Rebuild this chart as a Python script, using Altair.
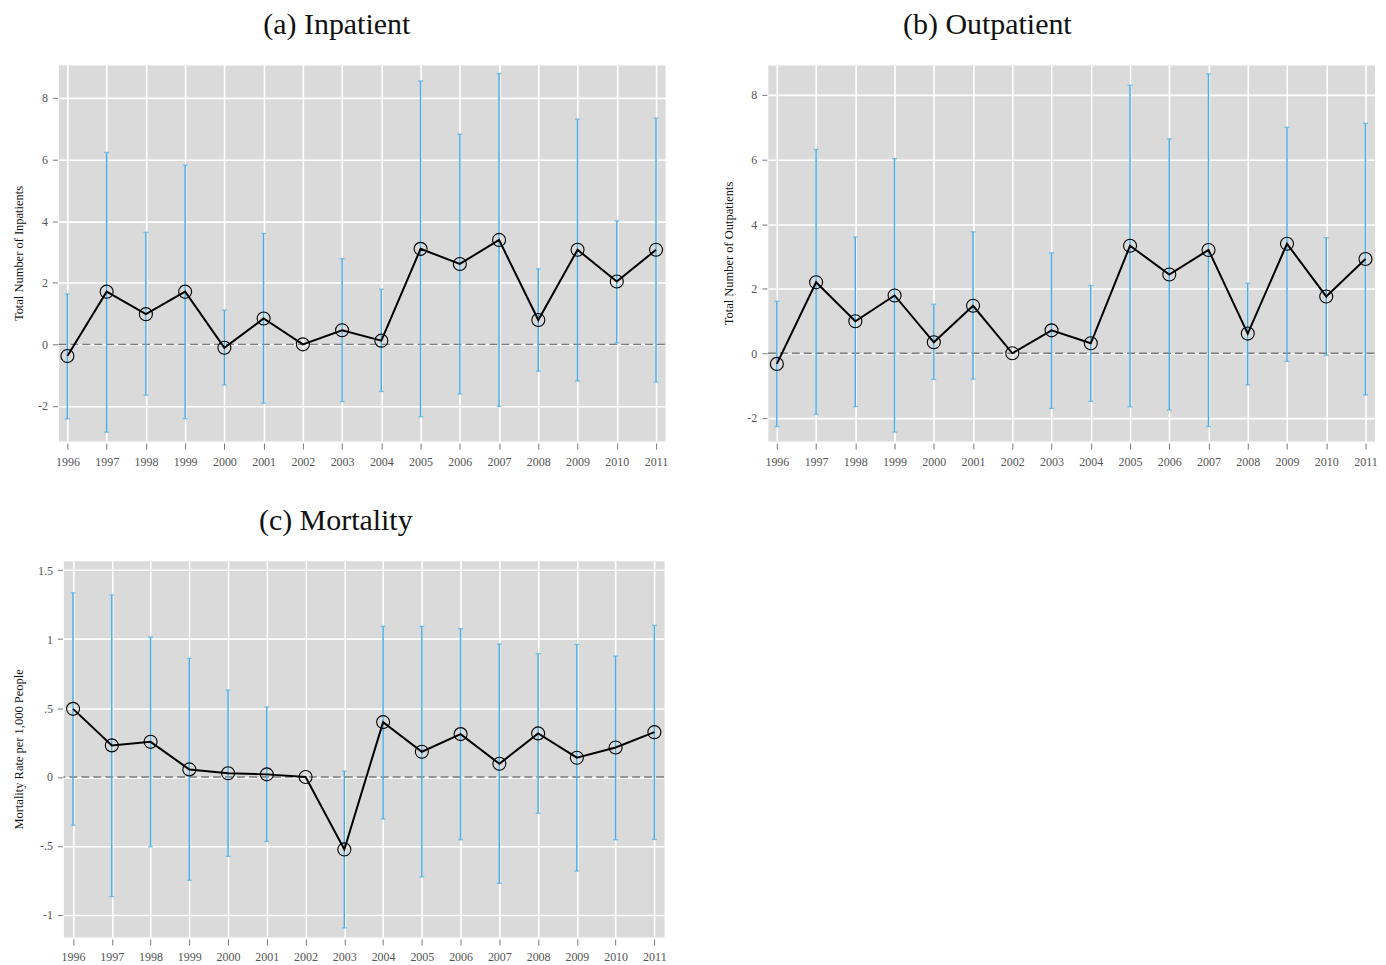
import altair as alt
import pandas as pd

years = list(range(1996, 2012))

# (a) Inpatient
inp_est = [-0.38, 1.71, 0.98, 1.71, -0.11, 0.84, 0.0, 0.46, 0.12, 3.10, 2.61, 3.39, 0.79, 3.07, 2.04, 3.07]
inp_lo = [-2.42, -2.85, -1.65, -2.41, -1.32, -1.91, None, -1.86, -1.53, -2.35, -1.61, -2.01, -0.87, -1.19, 0.05, -1.22]
inp_hi = [1.63, 6.23, 3.64, 5.82, 1.11, 3.60, None, 2.78, 1.79, 8.55, 6.82, 8.79, 2.45, 7.31, 4.01, 7.34]

# (b) Outpatient
out_est = [-0.33, 2.20, 0.99, 1.79, 0.34, 1.47, 0.0, 0.71, 0.31, 3.33, 2.44, 3.20, 0.61, 3.39, 1.76, 2.92]
out_lo = [-2.27, -1.89, -1.65, -2.44, -0.81, -0.80, None, -1.71, -1.49, -1.66, -1.76, -2.27, -0.98, -0.25, -0.06, -1.29]
out_hi = [1.61, 6.31, 3.60, 6.03, 1.52, 3.76, None, 3.11, 2.10, 8.30, 6.64, 8.65, 2.17, 7.00, 3.58, 7.12]

# (c) Mortality
mor_est = [0.494, 0.229, 0.255, 0.055, 0.027, 0.019, 0.0, -0.525, 0.398, 0.183, 0.311, 0.096, 0.316, 0.140, 0.214, 0.325]
mor_lo = [-0.349, -0.867, -0.506, -0.749, -0.576, -0.467, None, -1.094, -0.304, -0.725, -0.455, -0.771, -0.263, -0.682, -0.455, -0.453]
mor_hi = [1.335, 1.320, 1.014, 0.860, 0.631, 0.508, None, 0.043, 1.092, 1.092, 1.075, 0.964, 0.894, 0.961, 0.877, 1.099]

ticks_ab = [-2, 0, 2, 4, 6, 8]
ticks_c = [-1, -0.5, 0, 0.5, 1, 1.5]

SERIF = "Liberation Serif"
BLUE = "#4aaee6"
BG = "#dadada"


def panel(est, lo, hi, title, title_dx, ytitle, ydom, yticks, xdom, lab_expr, extent, w, h):
    df = pd.DataFrame({"year": years, "est": est, "lo": lo, "hi": hi})
    xs = alt.Scale(domain=xdom, nice=False, zero=False)
    ys = alt.Scale(domain=ydom, nice=False, zero=False)
    xax = alt.Axis(values=years, labelExpr="'' + datum.value", grid=True, gridColor="white",
                   gridWidth=1.6, domain=False, tickSize=6, tickColor="#777", offset=2,
                   labelColor="#555", labelFont=SERIF, labelFontSize=12, labelPadding=7,
                   labelFlush=False, labelOverlap=False, title=None)
    yax = alt.Axis(values=yticks, labelExpr=lab_expr, grid=True, gridColor="white",
                   gridWidth=1.6, domain=False, tickSize=5, tickColor="#777", offset=1,
                   labelColor="#555", labelFont=SERIF, labelFontSize=12, labelPadding=5,
                   minExtent=extent, maxExtent=extent, titlePadding=4, title=ytitle,
                   titleFont=SERIF, titleFontSize=12.5, titleFontWeight="normal",
                   titleColor="#111")
    base = alt.Chart(df)
    zero = alt.Chart(pd.DataFrame({"z": [0]})).mark_rule(
        color="#7a7a7a", strokeDash=[8, 4], strokeWidth=1.4
    ).encode(y=alt.Y("z:Q", scale=ys, axis=yax))
    bars = base.mark_rule(color=BLUE, strokeWidth=1.5).encode(
        x=alt.X("year:Q", scale=xs, axis=xax),
        y=alt.Y("lo:Q", scale=ys, axis=yax),
        y2="hi:Q",
    )
    cap_lo = base.mark_tick(color=BLUE, orient="horizontal", size=5, thickness=1.3).encode(
        x=alt.X("year:Q", scale=xs, axis=xax), y=alt.Y("lo:Q", scale=ys, axis=yax)
    )
    cap_hi = base.mark_tick(color=BLUE, orient="horizontal", size=5, thickness=1.3).encode(
        x=alt.X("year:Q", scale=xs, axis=xax), y=alt.Y("hi:Q", scale=ys, axis=yax)
    )
    line = base.mark_line(color="black", strokeWidth=2).encode(
        x=alt.X("year:Q", scale=xs, axis=xax), y=alt.Y("est:Q", scale=ys, axis=yax)
    )
    pts = base.mark_point(shape="circle", filled=False, color="black", size=170,
                          strokeWidth=1.1, opacity=1).encode(
        x=alt.X("year:Q", scale=xs, axis=xax), y=alt.Y("est:Q", scale=ys, axis=yax)
    )
    return alt.layer(zero, bars, cap_lo, cap_hi, line, pts).properties(
        width=w, height=h,
        view=alt.ViewBackground(fill=BG, stroke="transparent"),
        title=alt.TitleParams(title, font=SERIF, fontSize=30, fontWeight="normal",
                              anchor="middle", color="#111", offset=25, dx=title_dx),
    )


def spacer():
    return alt.Chart(pd.DataFrame({"s": [0]})).mark_rule(opacity=0).encode(
        x=alt.value(0), y=alt.value(0), y2=alt.value(1)
    ).properties(width=1, height=1,
                 view=alt.ViewBackground(fill="transparent", stroke="transparent"))


lab_ab = "'' + datum.value"
lab_c = "replace('' + datum.value, '0.', '.')"

a = panel(inp_est, inp_lo, inp_hi, "(a) Inpatient", -25, "Total Number of Inpatients",
          [-3.14, 9.07], ticks_ab, [1995.77, 2011.23], lab_ab, 27.5, 608, 377)
b = panel(out_est, out_lo, out_hi, "(b) Outpatient", -84, "Total Number of Outpatients",
          [-2.72, 8.93], ticks_ab, [1995.77, 2011.23], lab_ab, 27.5, 608, 377)
c = panel(mor_est, mor_lo, mor_hi, "(c) Mortality", -28, "Mortality Rate per 1,000 People",
          [-1.16, 1.567], ticks_c, [1995.75, 2011.25], lab_c, 32.5, 602, 377)

row1 = alt.hconcat(spacer(), alt.hconcat(a, b, spacing=53), spacing=1.5)
row2 = alt.hconcat(spacer(), c, spacing=1.5)

chart = alt.vconcat(row1, row2, spacing=37).properties(
    padding={"left": 0, "top": 0, "right": 0, "bottom": 0}
).configure_view(stroke="transparent")

chart.save("out.html", embed_options={"renderer": "svg", "actions": False})
